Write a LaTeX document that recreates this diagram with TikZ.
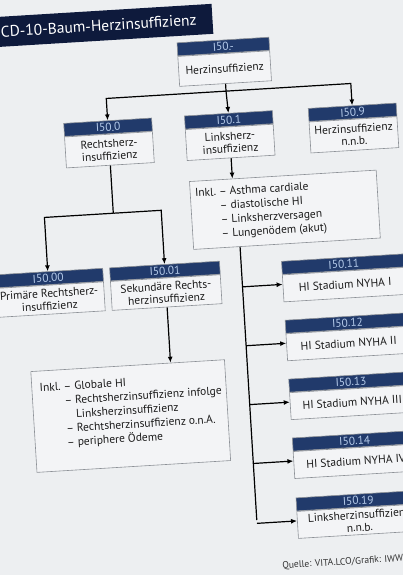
\documentclass[tikz,border=0pt]{standalone}
\usepackage{fontspec}
\setmainfont{PT Sans}
\usetikzlibrary{arrows.meta}
\definecolor{bg}{HTML}{EDEFF1}
\definecolor{titlebar}{HTML}{0E1A3C}
\definecolor{navy}{HTML}{213A6B}
\definecolor{hdrtext}{HTML}{B5CBEA}
\definecolor{boxline}{HTML}{8C9096}
\definecolor{boxfill}{HTML}{F3F4F6}
\definecolor{ink}{HTML}{1C1C1C}
\newcommand{\bodyfnt}{\fontsize{11.5}{12.5}\selectfont}
\newcommand{\inklfnt}{\fontsize{11.5}{14}\selectfont}
\tikzset{
  hdr/.style={draw=boxline, line width=0.6pt, fill=navy, text=hdrtext, anchor=north,
    minimum height=13pt, inner sep=0pt, font=\bodyfnt},
  bdy/.style={draw=boxline, line width=0.6pt, fill=boxfill, text=ink, anchor=north,
    inner sep=1pt, align=center, font=\bodyfnt},
  inkl/.style={draw=boxline, line width=0.6pt, fill=boxfill, text=ink,
    inner sep=0pt, font=\bodyfnt},
  inkltext/.style={text=ink, font=\inklfnt, inner sep=0pt},
  arr/.style={draw=black, line width=1.2pt, -{Latex[length=6pt,width=5pt]}},
  conn/.style={draw=black, line width=1.2pt},
}
\begin{document}
\begin{tikzpicture}[x=1pt,y=-1pt]
\useasboundingbox (0,0) rectangle (403,575);
\clip (0,0) rectangle (403,575);
\fill[bg] (0,0) rectangle (403,575);
\begin{scope}[rotate around={3.5:(201.5,287.5)}, transform shape]
% title
\node[fill=titlebar, text=white, anchor=east, inner ysep=0pt, minimum height=30pt,
  inner xsep=16pt, font=\fontsize{15.5}{18}\selectfont] (title) at (229,20)
  {\hspace*{30pt}ICD-10-Baum-Herzinsuffizienz};
% top
\node[hdr, minimum width=92pt] (htop) at (238,41.5) {I50.-};
\node[bdy, minimum width=92pt, minimum height=30pt] (btop) at (htop.south) {Herzinsuffizienz};
% level 2
\node[hdr, minimum width=88pt] (h0) at (118,115) {I50.0};
\node[bdy, minimum width=88pt, minimum height=31pt] (b0) at (h0.south) {Rechtsherz-\\insuffizienz};
\node[hdr, minimum width=88pt] (h1) at (239,115) {I50.1};
\node[bdy, minimum width=88pt, minimum height=31pt] (b1) at (h1.south) {Linksherz-\\insuffizienz};
\node[hdr, minimum width=88pt] (h9) at (363,115) {I50.9};
\node[bdy, minimum width=88pt, minimum height=31pt] (b9) at (h9.south) {Herzinsuffizienz\\n.n.b.};
% level 3 left branch
\node[hdr, minimum width=110pt] (h00) at (49,262) {I50.00};
\node[bdy, minimum width=110pt, minimum height=29pt] (b00) at (h00.south) {Primäre Rechtsherz-\\insuffizienz};
\node[hdr, minimum width=110pt] (h01) at (166,262) {I50.01};
\node[bdy, minimum width=110pt, minimum height=29pt] (b01) at (h01.south) {Sekundäre Rechts-\\herzinsuffizienz};
% inkl boxes
\node[inkl, minimum width=187pt, minimum height=68pt] (ink1) at (289.5,215) {};
\node[inkltext, anchor=west] (ink1t) at ([xshift=5pt]ink1.west)
  {\begin{tabular}{@{}l@{\ }l@{}}Inkl. & – Asthma cardiale\\ & – diastolische HI\\ & – Linksherzversagen\\ & – Lungenödem (akut)\end{tabular}};
\node[inkl, minimum width=194pt, minimum height=101pt] (ink2) at (123,411.5) {};
\node[inkltext, anchor=north west] (ink2t) at ([xshift=8pt,yshift=-11pt]ink2.north west)
  {\begin{tabular}{@{}l@{\ }l@{}}Inkl. & – Globale HI\\ & – Rechtsherzinsuffizienz infolge\\ & \phantom{– }Linksherzinsuffizienz\\ & – Rechtsherzinsuffizienz o.n.A.\\ & – periphere Ödeme\end{tabular}};
% right column
\node[hdr, minimum width=124pt] (h11) at (345,266) {I50.11};
\node[bdy, minimum width=124pt, minimum height=27pt] (b11) at (h11.south) {HI Stadium NYHA I};
\node[hdr, minimum width=124pt] (h12) at (345,325) {I50.12};
\node[bdy, minimum width=124pt, minimum height=27pt] (b12) at (h12.south) {HI Stadium NYHA II};
\node[hdr, minimum width=124pt] (h13) at (345,384) {I50.13};
\node[bdy, minimum width=124pt, minimum height=27pt] (b13) at (h13.south) {HI Stadium NYHA III};
\node[hdr, minimum width=124pt] (h14) at (345,443) {I50.14};
\node[bdy, minimum width=124pt, minimum height=27pt] (b14) at (h14.south) {HI Stadium NYHA IV};
\node[hdr, minimum width=124pt] (h19) at (345,503) {I50.19};
\node[bdy, minimum width=124pt, minimum height=27pt] (b19) at (h19.south) {Linksherzinsuffizienz\\n.n.b.};
% footer
\node[anchor=base west, text=black!80, inner sep=0pt, font=\fontsize{9.6}{10}\selectfont] (src) at (265,573)
  {Quelle: VITA.LCO/Grafik: IWW Institut};
% connectors
\coordinate (j1) at (239,93);
\draw[conn] (btop.south) -- (btop.south |- j1);
\draw[arr] (btop.south |- j1) -| (h0.north);
\draw[arr] (btop.south |- j1) -| (h9.north);
\draw[arr] (btop.south |- j1) -- (h1.north);
\draw[arr] (b1.south) -- (b1.south |- ink1.north);
\coordinate (j2) at (118,208);
\draw[conn] (b0.south) -- (j2);
\draw[arr] (j2) -| (h00.north);
\draw[arr] (j2) -| (h01.north);
\draw[arr] (b01.south) -- (b01.south |- ink2.north);
\coordinate (sb) at (242.5,523);
\draw[conn] (ink1.south -| sb) -- (sb);
\draw[arr] (sb |- b11.west) ++(0,-4) -- ([yshift=4pt]b11.west);
\draw[arr] (sb |- b12.west) ++(0,-4) -- ([yshift=4pt]b12.west);
\draw[arr] (sb |- b13.west) ++(0,-4) -- ([yshift=4pt]b13.west);
\draw[arr] (sb |- b14.west) ++(0,-4) -- ([yshift=4pt]b14.west);
\draw[arr] (sb |- b19.west) ++(0,-4) -- ([yshift=4pt]b19.west);
\end{scope}
\end{tikzpicture}
\end{document}
